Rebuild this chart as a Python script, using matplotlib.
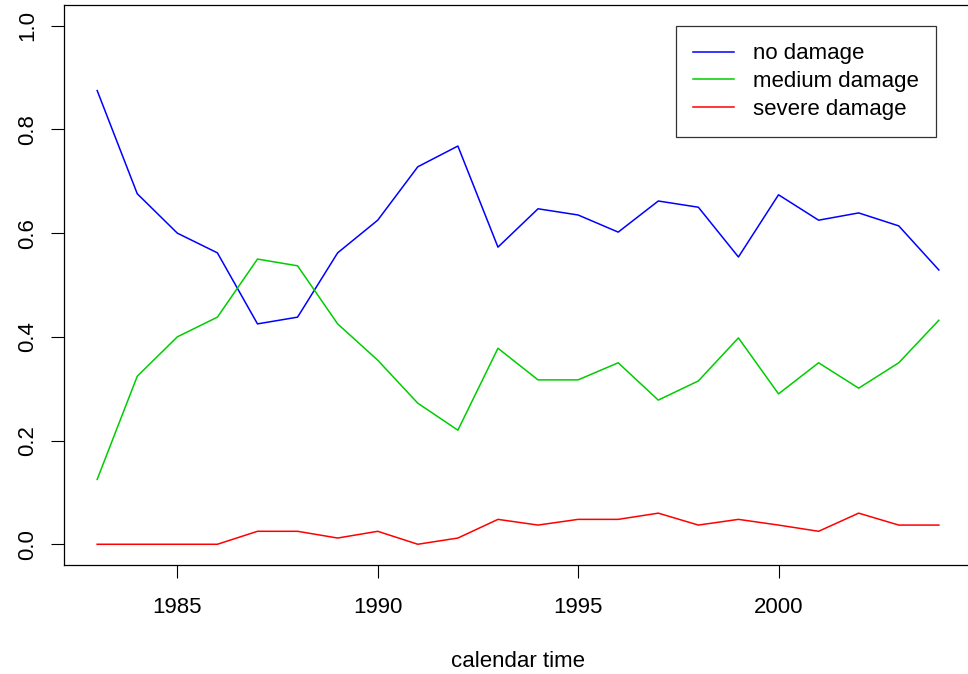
import matplotlib
matplotlib.use("Agg")
import matplotlib.pyplot as plt

years = list(range(1983, 2005))
no_damage = [0.875, 0.676, 0.600, 0.562, 0.425, 0.438, 0.562, 0.625, 0.728, 0.768, 0.573,
             0.647, 0.635, 0.602, 0.662, 0.650, 0.554, 0.674, 0.625, 0.639, 0.614, 0.529]
medium_damage = [0.125, 0.324, 0.400, 0.438, 0.550, 0.537, 0.425, 0.355, 0.272, 0.220, 0.378,
                 0.317, 0.317, 0.350, 0.278, 0.315, 0.398, 0.290, 0.350, 0.301, 0.350, 0.432]
severe_damage = [0.0, 0.0, 0.0, 0.0, 0.025, 0.025, 0.012, 0.025, 0.0, 0.012, 0.048,
                 0.037, 0.048, 0.048, 0.060, 0.037, 0.048, 0.037, 0.025, 0.060, 0.037, 0.037]
series_labels = ["no damage", "medium damage", "severe damage"]
x_ticks = [1985, 1990, 1995, 2000]
y_ticks = [0.0, 0.2, 0.4, 0.6, 0.8, 1.0]

plt.rcParams['font.family'] = ['Liberation Sans', 'DejaVu Sans']
FS = 16
fig = plt.figure(figsize=(9.68, 6.74), dpi=100)
ax = fig.add_axes([63.5/968, 1-565/674, (972.5-63.5)/968, (565-5)/674])
ax.plot(years, no_damage, color='#0000FF', lw=1.1, label=series_labels[0])
ax.plot(years, medium_damage, color='#00CD00', lw=1.1, label=series_labels[1])
ax.plot(years, severe_damage, color='#FF0000', lw=1.1, label=series_labels[2])
ax.set_xlim(1982.16, 2004.84)
ax.set_ylim(-0.04, 1.04)
ax.set_xticks(x_ticks)
ax.set_yticks(y_ticks)
ax.set_yticklabels([f"{v:.1f}" for v in y_ticks], rotation=90, va='center')
ax.tick_params(direction='out', length=9.4, labelsize=FS, width=0.8)
ax.tick_params(axis='x', pad=13.5)
ax.tick_params(axis='y', pad=9)
for s in ax.spines.values():
    s.set_linewidth(0.9)
ax.set_xlabel("calendar time", fontsize=FS, labelpad=24)
leg = ax.legend(loc='upper right', bbox_to_anchor=(0.96, 0.9625), fontsize=FS,
                frameon=True, fancybox=False, edgecolor='black', handlelength=1.85,
                borderpad=0.78, labelspacing=0.3, handletextpad=0.85, borderaxespad=0)
leg.get_frame().set_linewidth(0.9)
fig.savefig("out.png", dpi=100)
